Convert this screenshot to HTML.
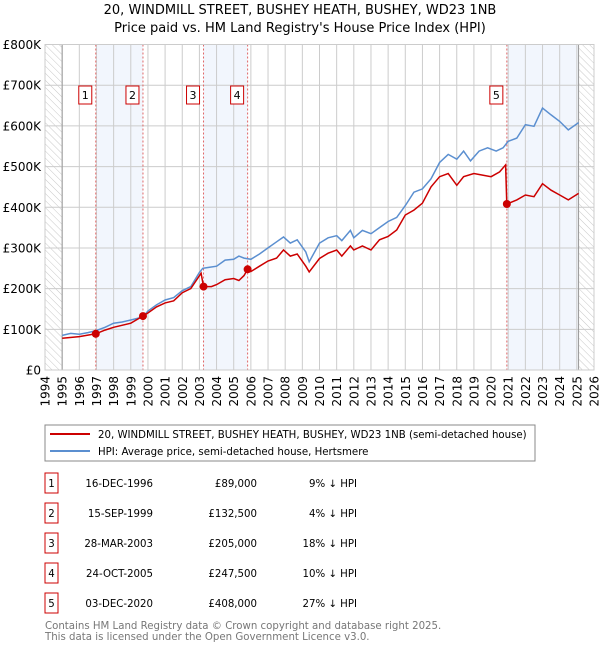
<!DOCTYPE html>
<html><head><meta charset="utf-8">
<style>
body{margin:0;background:#fff;font-family:"Liberation Sans","DejaVu Sans",sans-serif;}
#wrap{position:relative;width:600px;height:650px;overflow:hidden;}
svg text{font-family:"DejaVu Sans","Liberation Sans",sans-serif;}
</style></head>
<body>
<div id="wrap">
<svg id="chart" width="600" height="650" xmlns="http://www.w3.org/2000/svg">
<defs>
<pattern id="hatch" width="5" height="5" patternUnits="userSpaceOnUse" patternTransform="rotate(-45)">
<line x1="0" y1="0" x2="0" y2="5" stroke="#c8c8c8" stroke-width="1"/>
</pattern>
</defs>
<text x="300" y="14" text-anchor="middle" font-size="13" fill="#000">20, WINDMILL STREET, BUSHEY HEATH, BUSHEY, WD23 1NB</text>
<text x="300" y="32" text-anchor="middle" font-size="13" fill="#000">Price paid vs. HM Land Registry's House Price Index (HPI)</text>
<g id="plot"></g>
<rect x="45" y="425" width="490" height="36" fill="#fff" stroke="#888"/>
<line x1="50" y1="434" x2="90" y2="434" stroke="#cc0000" stroke-width="2"/>
<text x="98" y="438" font-size="10.2">20, WINDMILL STREET, BUSHEY HEATH, BUSHEY, WD23 1NB (semi-detached house)</text>
<line x1="50" y1="451" x2="90" y2="451" stroke="#5b8fd0" stroke-width="2"/>
<text x="98" y="455" font-size="10.2">HPI: Average price, semi-detached house, Hertsmere</text>
<g id="table" font-size="10.2"></g>
<text x="45" y="629" font-size="10.2" fill="#777">Contains HM Land Registry data © Crown copyright and database right 2025.</text>
<text x="45" y="640" font-size="10.2" fill="#777">This data is licensed under the Open Government Licence v3.0.</text>
</svg>
</div>
<script>
const hpiYears=[1995,1995.5,1996,1996.5,1997,1997.5,1998,1998.5,1999,1999.5,1999.7,2000,2000.5,2001,2001.5,2002,2002.5,2003,2003.2,2003.5,2004,2004.5,2005,2005.3,2005.6,2006,2006.5,2007,2007.5,2007.9,2008.3,2008.7,2009.2,2009.4,2010,2010.5,2011,2011.3,2011.8,2012,2012.5,2013,2013.5,2014,2014.5,2015,2015.5,2016,2016.5,2017,2017.5,2018,2018.4,2018.8,2019.3,2019.8,2020.3,2020.7,2021,2021.5,2022,2022.5,2023,2023.5,2024,2024.5,2025.1];
const hpiValues=[85,90,88,92,97,105,115,118,123,128,130,145,160,172,178,195,205,240,250,252,255,270,272,280,275,272,285,300,315,327,312,320,290,266,312,325,330,318,343,325,343,335,350,365,375,404,437,445,470,510,530,518,538,514,538,546,538,546,562,570,603,599,644,627,611,590,608];
const propYears=[1995,1996,1996.96,1997.5,1998,1999,1999.7,2000,2000.5,2001,2001.5,2002,2002.5,2003.1,2003.24,2003.7,2004,2004.5,2005,2005.3,2005.6,2005.81,2006,2006.5,2007,2007.5,2007.9,2008.3,2008.7,2009.2,2009.4,2010,2010.5,2011,2011.3,2011.8,2012,2012.5,2013,2013.5,2014,2014.5,2015,2015.5,2016,2016.5,2017,2017.5,2018,2018.4,2019,2019.5,2020,2020.5,2020.85,2020.92,2021.5,2022,2022.5,2023,2023.5,2024,2024.5,2025.1];
const propValues=[78,82,89,98,105,115,132.5,140,155,165,170,190,200,238,205,205,210,222,225,220,232,247.5,242,255,268,275,295,280,285,255,241,274,287,295,280,305,295,305,295,320,328,344,381,393,410,450,475,483,454,475,483,479,475,487,504,408,418,430,426,458,442,430,418,434];
const saleLabels=["1","2","3","4","5"];
const saleYears=[1996.96,1999.71,2003.24,2005.81,2020.92];
const saleValues=[89,132.5,205,247.5,408];
const saleDates=["16-DEC-1996","15-SEP-1999","28-MAR-2003","24-OCT-2005","03-DEC-2020"];
const salePrices=["£89,000","£132,500","£205,000","£247,500","£408,000"];
const saleDiffs=["9% ↓ HPI","4% ↓ HPI","18% ↓ HPI","10% ↓ HPI","27% ↓ HPI"];
const yTicks=[0,100,200,300,400,500,600,700,800];
const yTickLabels=["£0","£100K","£200K","£300K","£400K","£500K","£600K","£700K","£800K"];
const xTicks=[1994,1995,1996,1997,1998,1999,2000,2001,2002,2003,2004,2005,2006,2007,2008,2009,2010,2011,2012,2013,2014,2015,2016,2017,2018,2019,2020,2021,2022,2023,2024,2025,2026];

const L=45,R=594,T=44.5,B=370,X0=1994,X1=2026,YMAX=800;
const xs=y=>L+(y-X0)/(X1-X0)*(R-L);
const ys=v=>B-v/YMAX*(B-T);
const NS="http://www.w3.org/2000/svg";
const plot=document.getElementById('plot');
function mk(tag,attrs,parent){const e=document.createElementNS(NS,tag);for(const k in attrs)e.setAttribute(k,attrs[k]);(parent||plot).appendChild(e);return e;}

const bandEnds=[1999.71,2005.81,2025.1];
const bandStarts=[1996.96,2003.24,2020.92];
for(let i=0;i<bandStarts.length;i++){
  const r=mk('rect',{x:xs(bandStarts[i]),y:T,width:xs(bandEnds[i])-xs(bandStarts[i]),height:B-T,fill:'#f2f6fd'});
  
  
}
const h1=mk('rect',{x:L,y:T,width:xs(1995)-L,height:B-T,fill:'url(#hatch)'});


const h2=mk('rect',{x:xs(2025.1),y:T,width:R-xs(2025.1),height:B-T,fill:'url(#hatch)'});



xTicks.forEach((t,i)=>{
  const g=mk('line',{x1:xs(t),x2:xs(t),y1:T,y2:B,stroke:'#ccc','stroke-width':1});
  
  
  const tx=mk('text',{x:0,y:0,'font-size':12,'text-anchor':'end',transform:`translate(${xs(t)+4.5},${B+6}) rotate(-90)`});
  tx.textContent=t;
  
  
});
yTicks.forEach((t,i)=>{
  const g=mk('line',{x1:L,x2:R,y1:ys(t),y2:ys(t),stroke:'#ccc','stroke-width':1});
  
  
  const tx=mk('text',{x:41,y:ys(t)+4.5,'font-size':12,'text-anchor':'end'});
  tx.textContent=yTickLabels[i];
  
  
});
const ax1=mk('line',{x1:xs(1995),x2:xs(1995),y1:T,y2:B,stroke:'#999'});


const ax2=mk('line',{x1:xs(2025.1),x2:xs(2025.1),y1:T,y2:B,stroke:'#999'});



saleYears.forEach((y,i)=>{
  const l=mk('line',{x1:xs(y),x2:xs(y),y1:T,y2:B,stroke:'#e06666','stroke-width':1,'stroke-dasharray':'2,2'});
  
  
});

function path(xa,va){return xa.map((x,i)=>(i?'L':'M')+xs(x).toFixed(1)+','+ys(va[i]).toFixed(1)).join('');}
const hp=mk('path',{d:path(hpiYears,hpiValues),fill:'none',stroke:'#5b8fd0','stroke-width':1.5});


const pp=mk('path',{d:path(propYears,propValues),fill:'none',stroke:'#cc0000','stroke-width':1.5});



saleYears.forEach((y,i)=>{
  const c=mk('circle',{cx:xs(y),cy:ys(saleValues[i]),r:4,fill:'#cc0000'});
  
  
  const b=mk('rect',{x:xs(y)-17,y:86,width:13,height:18,fill:'#fff',stroke:'#cc0000'});
  
  
  const t=mk('text',{x:xs(y)-10.5,y:99,'font-size':11,'text-anchor':'middle'});
  t.textContent=saleLabels[i];
  
  
});
const frame=mk('rect',{x:L,y:T,width:R-L,height:B-T,fill:'none',stroke:'#ccc'});



const tbl=document.getElementById('table');
saleLabels.forEach((s,i)=>{
  const y=483+i*30;
  const b=mk('rect',{x:45,y:y-10,width:13,height:20,fill:'#fff',stroke:'#cc0000'},tbl);
  
  
  const t0=mk('text',{x:51.5,y:y+4,'text-anchor':'middle'},tbl);t0.textContent=s;
  
  
  const t1=mk('text',{x:153,y:y+4,'text-anchor':'end'},tbl);t1.textContent=saleDates[i];
  
  
  const t2=mk('text',{x:257,y:y+4,'text-anchor':'end'},tbl);t2.textContent=salePrices[i];
  
  
  const t3=mk('text',{x:357,y:y+4,'text-anchor':'end'},tbl);t3.textContent=saleDiffs[i];
  
  
});
</script>
</body></html>
